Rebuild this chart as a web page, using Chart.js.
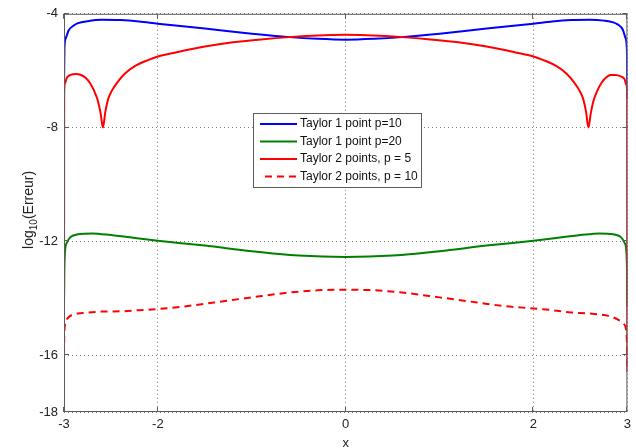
<!DOCTYPE html>
<html><head><meta charset="utf-8">
<script src="https://cdn.jsdelivr.net/npm/chart.js@4.4.0/dist/chart.umd.min.js"></script>
<style>html,body{margin:0;padding:0;background:#fff}canvas{display:block}</style>
</head><body><canvas id="c" width="636" height="448"></canvas>
<script>
const xTicks = [-3, -2, 0, 2, 3];
const yTicks = [-18, -16, -12, -8, -4];
const seriesLabels = ['Taylor 1 point p=10', 'Taylor 1 point p=20', 'Taylor 2 points, p = 5', 'Taylor 2 points, p = 10'];
const yTitleParts = ['log', '10', '(Erreur)'];
const xTitle = 'x';

const blueX = [-3, -2.995, -2.98, -2.95, -2.9, -2.85, -2.75, -2.6, -2.4, -2.2, -2.0, -1.5, -1.0, -0.6, -0.3, 0, 0.3, 0.6, 1.0, 1.5, 2.0, 2.2, 2.4, 2.6, 2.75, 2.85, 2.9, 2.95, 2.98, 2.995, 3];
const blueY = [-6.6, -5.2, -4.85, -4.58, -4.42, -4.33, -4.26, -4.21, -4.22, -4.27, -4.35, -4.52, -4.7, -4.82, -4.88, -4.91, -4.88, -4.82, -4.7, -4.52, -4.35, -4.27, -4.22, -4.21, -4.24, -4.3, -4.38, -4.55, -4.85, -5.3, -7.0];

const greenX = [-3, -2.997, -2.99, -2.97, -2.93, -2.85, -2.7, -2.5, -2.2, -2.0, -1.5, -1.0, -0.5, 0, 0.5, 1.0, 1.5, 2.0, 2.2, 2.5, 2.7, 2.85, 2.93, 2.97, 2.99, 2.997, 3];
const greenY = [-14.3, -13.2, -12.4, -12.05, -11.85, -11.75, -11.72, -11.78, -11.9, -11.98, -12.15, -12.35, -12.5, -12.55, -12.5, -12.35, -12.15, -11.98, -11.9, -11.78, -11.72, -11.75, -11.85, -12.05, -12.4, -13.2, -14.3];

const redX = [-3, -2.998, -2.99, -2.97, -2.93, -2.87, -2.82, -2.77, -2.72, -2.68, -2.64, -2.61, -2.585, -2.56, -2.53, -2.49, -2.43, -2.35, -2.25, -2.1, -2.0, -1.8, -1.5, -1.2, -0.9, -0.6, -0.3, 0,
              0.3, 0.6, 0.9, 1.2, 1.5, 1.8, 2.0, 2.1, 2.25, 2.35, 2.43, 2.49, 2.53, 2.56, 2.585, 2.61, 2.64, 2.68, 2.72, 2.77, 2.82, 2.87, 2.93, 2.97, 2.99, 2.998, 3];
const redY = [-16.2, -6.8, -6.45, -6.25, -6.15, -6.12, -6.15, -6.25, -6.45, -6.7, -7.05, -7.5, -8.0, -7.45, -7.0, -6.7, -6.4, -6.1, -5.85, -5.62, -5.5, -5.35, -5.15, -5.0, -4.9, -4.82, -4.76, -4.74,
              -4.76, -4.82, -4.9, -5.0, -5.15, -5.35, -5.5, -5.62, -5.85, -6.1, -6.4, -6.7, -7.0, -7.45, -8.0, -7.5, -7.05, -6.7, -6.45, -6.25, -6.15, -6.15, -6.2, -6.3, -6.5, -6.9, -16.6];

const dashX = [-3, -2.997, -2.99, -2.96, -2.9, -2.8, -2.6, -2.4, -2.2, -2.0, -1.7, -1.4, -1.0, -0.6, -0.3, 0, 0.3, 0.6, 1.0, 1.4, 1.7, 2.0, 2.2, 2.4, 2.6, 2.8, 2.9, 2.96, 2.99, 2.997, 3];
const dashY = [-16.0, -15.3, -14.95, -14.7, -14.57, -14.52, -14.47, -14.46, -14.42, -14.38, -14.28, -14.15, -13.97, -13.8, -13.72, -13.7, -13.72, -13.8, -13.97, -14.15, -14.28, -14.36, -14.42, -14.5, -14.54, -14.62, -14.75, -14.9, -15.2, -15.8, -16.4];

const pts = (xs, ys) => xs.map((x, i) => ({x: x, y: ys[i]}));
const FONT = '"Liberation Sans", Arial, sans-serif';

const boxPlugin = {
  id: 'matlabBox',
  afterDraw(chart) {
    const ctx = chart.ctx, a = chart.chartArea, xs = chart.scales.x, ys = chart.scales.y;
    ctx.save();
    ctx.strokeStyle = '#5c5c5c'; ctx.lineWidth = 1; ctx.setLineDash([]);
    const line = (x1, y1, x2, y2) => { ctx.beginPath(); ctx.moveTo(x1, y1); ctx.lineTo(x2, y2); ctx.stroke(); };
    xTicks.forEach(v => {
      const px = Math.round(xs.getPixelForValue(v)) - 0.5;
      line(px, a.bottom, px, a.bottom - 5);
      line(px, a.top, px, a.top + 5);
    });
    yTicks.forEach(v => {
      const py = Math.round(ys.getPixelForValue(v)) - 0.5;
      line(a.left, py, a.left + 5, py);
      line(a.right, py, a.right - 5, py);
    });
    ctx.strokeRect(a.left + 0.5, a.top + 0.5, a.right - a.left - 1, a.bottom - a.top - 1);

    // y axis title with subscript
    ctx.save();
    ctx.translate(33, (a.top + a.bottom) / 2 - 3);
    ctx.rotate(-Math.PI / 2);
    ctx.fillStyle = '#222'; ctx.textBaseline = 'alphabetic'; ctx.textAlign = 'left';
    const big = '14px ' + FONT, small = '10px ' + FONT;
    ctx.font = big; const w0 = ctx.measureText(yTitleParts[0]).width, w2 = ctx.measureText(yTitleParts[2]).width;
    ctx.font = small; const w1 = ctx.measureText(yTitleParts[1]).width;
    let tx = -(w0 + w1 + w2) / 2;
    ctx.font = big; ctx.fillText(yTitleParts[0], tx, 0); tx += w0;
    ctx.font = small; ctx.fillText(yTitleParts[1], tx, 4); tx += w1;
    ctx.font = big; ctx.fillText(yTitleParts[2], tx, 0);
    ctx.restore();

    // x axis title
    ctx.fillStyle = '#222'; ctx.font = '13px ' + FONT; ctx.textAlign = 'center'; ctx.textBaseline = 'alphabetic';
    ctx.fillText(xTitle, (a.left + a.right) / 2, 447);

    // legend box
    const x0 = 253, y0 = 113, w = 168, h = 74;
    ctx.fillStyle = '#fff'; ctx.fillRect(x0, y0, w, h);
    ctx.strokeStyle = '#5c5c5c'; ctx.lineWidth = 1; ctx.strokeRect(x0 + 0.5, y0 + 0.5, w, h);
    chart.data.datasets.forEach((ds, i) => {
      const y = y0 + 11 + i * 17.5;
      ctx.strokeStyle = ds.borderColor; ctx.lineWidth = 2;
      ctx.setLineDash(ds.borderDash || []);
      ctx.beginPath(); ctx.moveTo(ds.borderDash ? 265 : 260, y); ctx.lineTo(297, y); ctx.stroke();
      ctx.setLineDash([]);
      ctx.fillStyle = '#111'; ctx.font = '12px ' + FONT; ctx.textBaseline = 'middle'; ctx.textAlign = 'left';
      ctx.fillText(ds.label, 300, y);
    });
    ctx.restore();
  }
};

new Chart(document.getElementById('c'), {
  type: 'line',
  data: {
    datasets: [
      {label: seriesLabels[0], data: pts(blueX, blueY), borderColor: '#0000ff', order: 4},
      {label: seriesLabels[1], data: pts(greenX, greenY), borderColor: '#008000', order: 3},
      {label: seriesLabels[2], data: pts(redX, redY), borderColor: '#ff0000', order: 2},
      {label: seriesLabels[3], data: pts(dashX, dashY), borderColor: '#ff0000', borderDash: [7, 5], order: 1}
    ]
  },
  options: {
    responsive: false,
    animation: false,
    events: [],
    layout: {padding: {top: 13, right: 6, left: 0, bottom: 0}},
    elements: {
      point: {radius: 0},
      line: {borderWidth: 2, cubicInterpolationMode: 'monotone', fill: false}
    },
    plugins: {legend: {display: false}, tooltip: {enabled: false}},
    scales: {
      x: {
        type: 'linear', min: -3, max: 3,
        afterBuildTicks: s => { s.ticks = xTicks.map(v => ({value: v})); },
        afterFit: s => { s.height = 36; },
        ticks: {font: {family: FONT, size: 13}, color: '#222', padding: 5, maxRotation: 0, autoSkip: false, callback: v => String(v)},
        grid: {color: '#7a7a7a', drawTicks: false, lineWidth: 1},
        border: {display: false, dash: [1, 3]}
      },
      y: {
        type: 'linear', min: -18, max: -4,
        afterBuildTicks: s => { s.ticks = yTicks.map(v => ({value: v})); },
        afterFit: s => { s.width = 64; },
        ticks: {font: {family: FONT, size: 13}, color: '#222', padding: 6, autoSkip: false, callback: v => String(v)},
        grid: {color: '#7a7a7a', drawTicks: false, lineWidth: 1},
        border: {display: false, dash: [1, 3]}
      }
    }
  },
  plugins: [boxPlugin]
});
</script>
</body></html>
